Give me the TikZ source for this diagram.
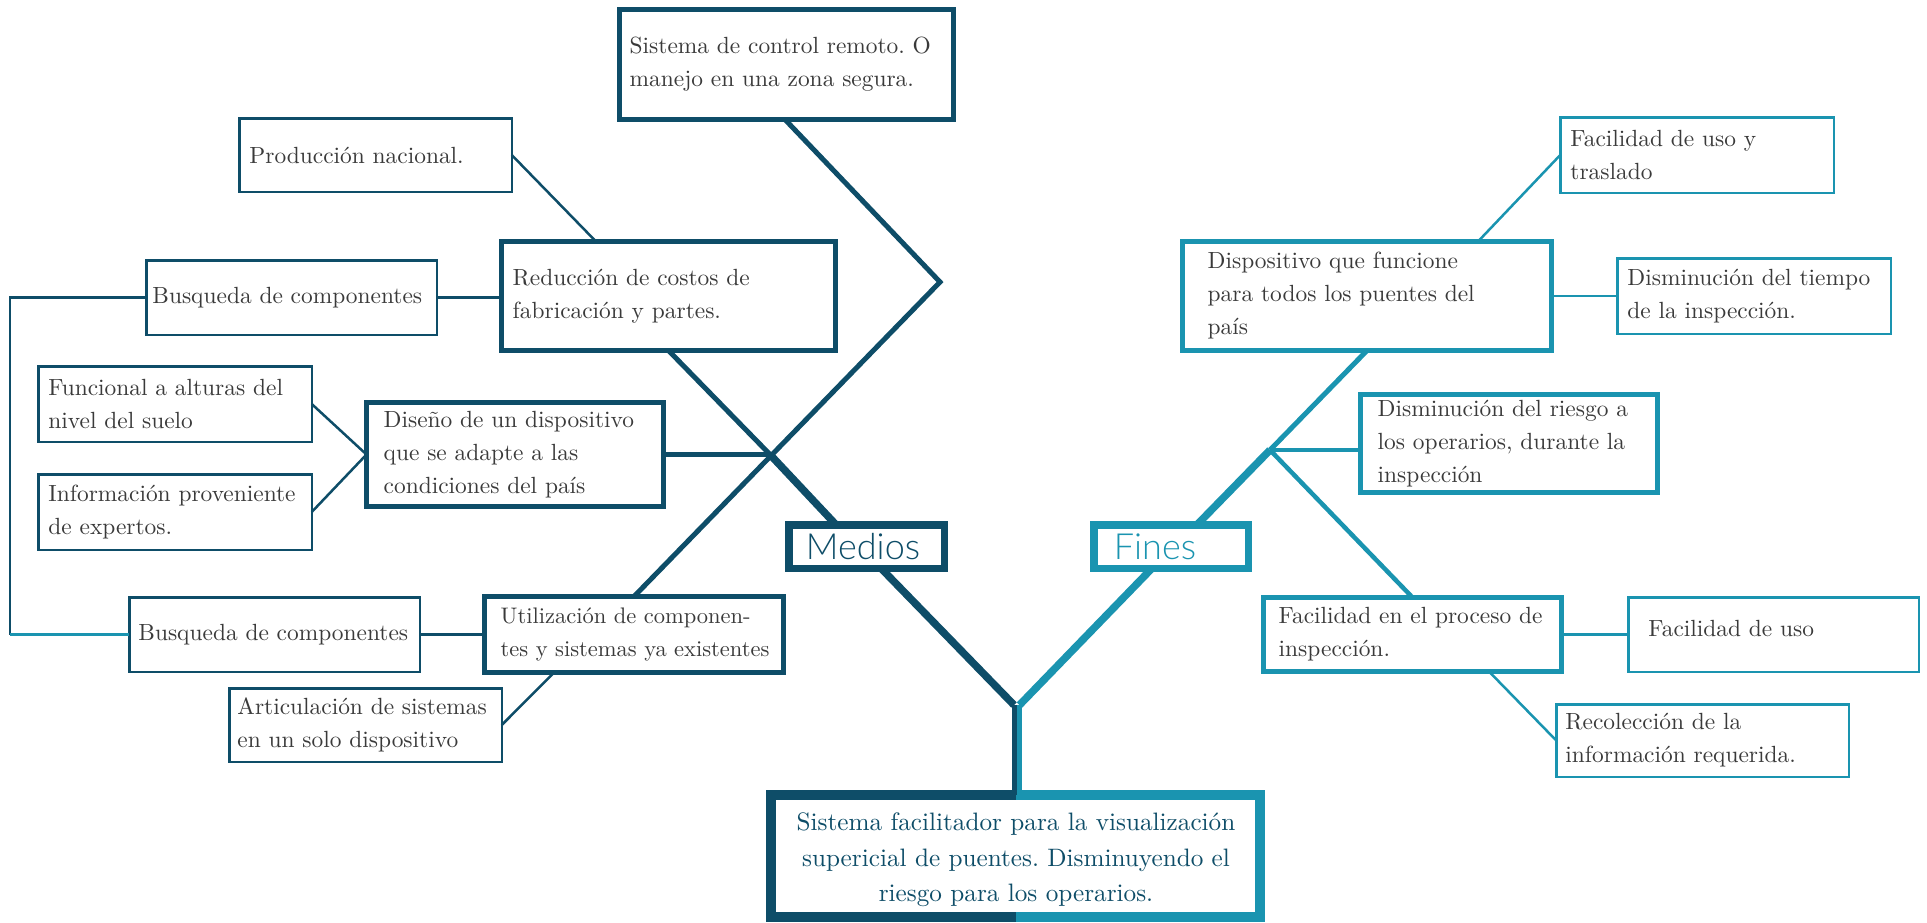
\documentclass[tikz,border=0pt]{standalone}
\usepackage{fontspec}
\setmainfont{lmroman10-regular}[Extension=.otf]
\newfontfamily\thinfont{Lato Light}
\frenchspacing
\definecolor{mdark}{HTML}{0E4D68}
\definecolor{fteal}{HTML}{1A94B0}
\definecolor{txtgray}{HTML}{3A3A3A}
\tikzset{
  box/.style={draw, rectangle, inner sep=0pt, outer sep=0pt, fill=white},
  thinbox/.style={box, line width=2.5pt},
  thickbox/.style={box, line width=5pt},
  tagbox/.style={box, line width=7.5pt},
  lbl/.style={align=left, inner sep=0pt, anchor=west, text=txtgray,
    font=\fontsize{23.4}{33}\selectfont},
  taglbl/.style={inner sep=0pt, anchor=west, font=\thinfont\fontsize{36}{36}\selectfont},
  thinln/.style={line width=2.5pt},
  midln/.style={line width=4.5pt},
  thickln/.style={line width=5pt},
  heavyln/.style={line width=7.5pt},
}
\begin{document}
\begin{tikzpicture}[x=1pt,y=-1pt]
\useasboundingbox[fill=white] (0,0) rectangle (1927,922);

% ---------- Medios (left half) ----------
\begin{scope}[draw=mdark]
\node[thickbox, minimum width=334pt, minimum height=110pt] (sistema) at (786.5,64.5) {};
\node[lbl] (sistemaT) at ([xshift=10pt]sistema.west) {Sistema de control remoto. O\\manejo en una zona segura.};

\node[thinbox, minimum width=272.5pt, minimum height=73.5pt] (produc) at (375.5,155) {};
\node[lbl] (producT) at ([xshift=10pt]produc.west) {Producción nacional.};

\node[thickbox, minimum width=334pt, minimum height=109pt] (reduc) at (668.5,296) {};
\node[lbl] (reducT) at ([xshift=11pt]reduc.west) {Reducción de costos de\\fabricación y partes.};

\node[thinbox, minimum width=290.5pt, minimum height=74.5pt] (busqa) at (291.5,297.5) {};
\node[lbl] (busqaT) at ([xshift=6pt]busqa.west) {Busqueda de componentes};

\node[thinbox, minimum width=273.5pt, minimum height=75.5pt] (funcional) at (175,404) {};
\node[lbl] (funcionalT) at ([xshift=10pt]funcional.west) {Funcional a alturas del\\nivel del suelo};

\node[thickbox, minimum width=297pt, minimum height=104pt] (diseno) at (515,454.5) {};
\node[lbl] (disenoT) at ([xshift=17pt]diseno.west) {Diseño de un dispositivo\\que se adapte a las\\condiciones del país};

\node[thinbox, minimum width=273.5pt, minimum height=75.5pt] (info) at (175,512) {};
\node[lbl] (infoT) at ([xshift=10pt]info.west) {Información proveniente\\de expertos.};

\node[thinbox, minimum width=290.5pt, minimum height=74.5pt] (busqb) at (274.5,634.5) {};
\node[lbl] (busqbT) at ([xshift=9pt]busqb.west) {Busqueda de componentes};

\node[thickbox, minimum width=299pt, minimum height=76pt] (util) at (634,634.5) {};
\node[lbl, font=\fontsize{22.5}{33}\selectfont] (utilT) at ([xshift=16pt]util.west) {Utilización de componen-\\tes y sistemas ya existentes};

\node[thinbox, minimum width=272.5pt, minimum height=73.5pt] (artic) at (365.5,725) {};
\node[lbl] (articT) at ([xshift=8pt]artic.west) {Articulación de sistemas\\en un solo dispositivo};

\node[tagbox, minimum width=155.5pt, minimum height=43.5pt] (medios) at (866.5,546.5) {};
\node[taglbl, text=mdark] (mediosT) at ([xshift=17pt]medios.west) {Medios};
\end{scope}

% ---------- Fines (right half) ----------
\begin{scope}[draw=fteal]
\node[tagbox, minimum width=154.5pt, minimum height=43.5pt] (fines) at (1171,546.5) {};
\node[taglbl, text=fteal] (finesT) at ([xshift=20pt]fines.west) {Fines};

\node[thinbox, minimum width=273.5pt, minimum height=75.5pt] (traslado) at (1697,155) {};
\node[lbl] (trasladoT) at ([xshift=10pt]traslado.west) {Facilidad de uso y\\traslado};

\node[thickbox, minimum width=369pt, minimum height=109pt] (disposit) at (1367,296) {};
\node[lbl] (dispositT) at ([xshift=25pt]disposit.west) {Dispositivo que funcione\\para todos los puentes del\\país};

\node[thinbox, minimum width=273.5pt, minimum height=75.5pt] (tiempo) at (1754,296) {};
\node[lbl] (tiempoT) at ([xshift=10pt]tiempo.west) {Disminución del tiempo\\de la inspección.};

\node[thickbox, minimum width=297pt, minimum height=98pt] (riesgo) at (1509,443.5) {};
\node[lbl] (riesgoT) at ([xshift=17pt]riesgo.west) {Disminución del riesgo a\\los operarios, durante la\\inspección};

\node[thickbox, minimum width=298pt, minimum height=74pt] (proceso) at (1412.5,634.5) {};
\node[lbl] (procesoT) at ([xshift=15pt]proceso.west) {Facilidad en el proceso de\\inspección.};

\node[thinbox, minimum width=290.5pt, minimum height=74.5pt] (uso) at (1773.5,634.5) {};
\node[lbl] (usoT) at ([xshift=20pt,yshift=6pt]uso.west) {Facilidad de uso};

\node[thinbox, minimum width=292.5pt, minimum height=72.5pt] (recol) at (1702.5,740.5) {};
\node[lbl] (recolT) at ([xshift=9pt]recol.west) {Recolección de la\\información requerida.};
\end{scope}

% ---------- Central goal ----------
\node[rectangle, inner sep=0pt, outer sep=0pt, minimum width=489pt, minimum height=122pt] (main) at (1015.5,856) {};
\node[align=center, inner sep=0pt, text=mdark, font=\fontsize{25.2}{35.5}\selectfont] (mainT) at (1016,860)
  {Sistema facilitador para la visualización\\supericial de puentes. Disminuyendo el\\riesgo para los operarios.};
\draw[mdark, line width=10pt] (main.north) -- (main.north west) -- (main.south west) -- (main.south);
\draw[fteal, line width=10pt] (main.north) -- (main.north east) -- (main.south east) -- (main.south);

% ---------- Junction points ----------
\coordinate (elbow) at (940,282);
\coordinate (cross) at (770,454.5);
\coordinate (junc) at (1270,450);
\coordinate (vL) at (1014,705);
\coordinate (vR) at (1019.5,705);
\coordinate (brk) at (10,634.5);

% ---------- Medios connectors ----------
\begin{scope}[draw=mdark]
\draw[thickln] ([xshift=-1.5pt]sistema.south) -- (elbow) -- (util.north);
\draw[thickln] (reduc.south) -- (cross);
\draw[heavyln] (cross) -- ([xshift=-30.5pt]medios.north);
\draw[thickln] (diseno.east) -- (cross);
\draw[thinln] (produc.east) -- ([xshift=-72.5pt]reduc.north);
\draw[thinln] (busqa.east) -- (busqa.east -| reduc.west);
\draw[thinln] (funcional.east) -- (diseno.west);
\draw[thinln] (info.east) -- (diseno.west);
\draw[thinln] (busqb.east) -- (busqb.east -| util.west);
\draw[thinln] ([xshift=-80pt]util.south) -- (artic.east);
\draw[thinln] (busqa.west) -| (brk);
\draw[heavyln] ([xshift=14.5pt]medios.south) -- (vL);
\draw[line width=5pt] (vL) -- (vL |- main.north);
\end{scope}
\draw[thinln, fteal] (brk) -- (busqb.west);

% ---------- Fines connectors ----------
\begin{scope}[draw=fteal]
\draw[thickln] (disposit.south) -- (junc);
\draw[heavyln] (junc) -- ([xshift=26pt]fines.north);
\draw[midln] (junc) -- (junc -| riesgo.west);
\draw[midln] (junc) -- (proceso.north);
\draw[thinln] (traslado.west) -- ([xshift=111pt]disposit.north);
\draw[thinln] (disposit.east) -- (tiempo.west);
\draw[thinln] (proceso.east) -- (uso.west);
\draw[thinln] ([xshift=76.5pt]proceso.south) -- (recol.west);
\draw[heavyln] ([xshift=-19pt]fines.south) -- (vR);
\draw[line width=5.5pt] (vR) -- (vR |- main.north);
\end{scope}
\end{tikzpicture}
\end{document}
